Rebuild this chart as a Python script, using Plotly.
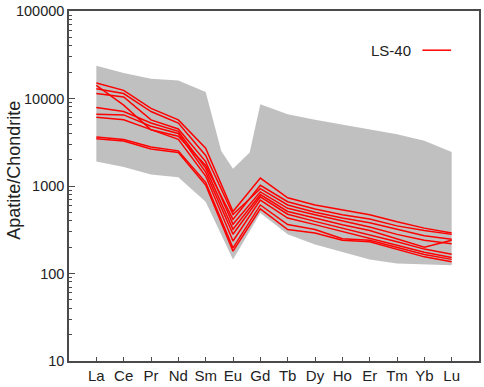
import plotly.graph_objects as go

elements = ["La", "Ce", "Pr", "Nd", "Sm", "Eu", "Gd", "Tb", "Dy", "Ho", "Er", "Tm", "Yb", "Lu"]

# Grey reference field (upper and lower envelopes); x as element index
band_upper_x = [0, 1, 2, 3, 4, 4.57, 5, 5.61, 6, 7, 8, 9, 10, 11, 12, 13]
band_upper_y = [23700, 19600, 16800, 16100, 11900, 2520, 1570, 2410, 8600, 6600, 5700, 5000, 4400, 3900, 3300, 2450]
band_lower_x = [0, 1, 2, 3, 4, 5, 6, 7, 8, 9, 10, 11, 12, 13]
band_lower_y = [1900, 1650, 1350, 1260, 660, 145, 490, 280, 215, 175, 145, 130, 126, 124]

# LS-40 apatite samples (chondrite-normalised)
s1 = [15000, 12400, 7700, 5700, 2700, 510, 1230, 733, 607, 530, 470, 390, 330, 290]
s2 = [14100, 8400, 4400, 3700, 1720, 415, 1020, 661, 547, 470, 420, 350, 310, 280]
s3 = [12900, 11400, 7100, 5240, 2230, 472, 933, 607, 500, 430, 380, 320, 270, 246]
s4 = [11400, 10400, 5700, 4480, 1900, 365, 857, 556, 469, 400, 340, 280, 240, 219]
s5 = [7900, 7090, 5240, 4220, 1600, 320, 798, 511, 430, 360, 310, 250, 200, 240]
s6 = [6600, 6490, 4810, 3980, 1440, 281, 752, 476, 394, 330, 280, 230, 190, 166]
s7 = [6120, 5700, 4410, 3410, 1300, 235, 690, 430, 362, 300, 250, 210, 175, 152]
s8 = [3620, 3400, 2790, 2520, 1100, 196, 607, 362, 318, 250, 240, 200, 165, 145]
s9 = [3460, 3260, 2650, 2410, 1026, 180, 547, 318, 291, 240, 230, 190, 155, 136]
samples = [s1, s2, s3, s4, s5, s6, s7, s8, s9]

y_tickvals = [10, 100, 1000, 10000, 100000]
y_ticktext = ["10", "100", "1000", "10000", "100000"]
y_minor_vals = [m * d for d in (10, 100, 1000, 10000) for m in range(2, 10)]

FONT = "Liberation Sans, Arial, sans-serif"
AX = "#4a4a4a"

fig = go.Figure()
idx = list(range(len(elements)))

fig.add_trace(go.Scatter(
    x=band_upper_x + band_lower_x[::-1],
    y=band_upper_y + band_lower_y[::-1],
    fill="toself", fillcolor="#c0c0c0", mode="lines",
    line=dict(width=0, color="#c0c0c0"), hoverinfo="skip", showlegend=False))

for s in samples:
    fig.add_trace(go.Scatter(x=idx, y=s, mode="lines",
                             line=dict(color="#ff0000", width=1.5), showlegend=False))

fig.update_layout(
    width=484, height=387,
    margin=dict(l=69, r=3, t=6, b=25),
    paper_bgcolor="white", plot_bgcolor="white",
    font=dict(family=FONT, size=15, color="#222222"),
    showlegend=False,
)
fig.update_xaxes(
    range=[-1, 14], tickvals=idx, ticktext=elements,
    showgrid=False, zeroline=False, showline=True, mirror=True,
    linecolor=AX, linewidth=1.5, ticks="inside", ticklen=4, tickcolor=AX,
    tickfont=dict(size=15))
fig.update_yaxes(
    type="log", range=[1, 5], tickvals=y_tickvals, ticktext=y_ticktext,
    ticklabeloverflow="allow",
    showgrid=False, zeroline=False, showline=True, mirror=True,
    linecolor=AX, linewidth=1.5, ticks="inside", ticklen=6, tickcolor=AX,
    minor=dict(tickmode="array", tickvals=y_minor_vals, ticks="inside",
               ticklen=3, tickcolor=AX, showgrid=False),
    tickfont=dict(size=14.5))

fig.add_annotation(text="Apatite/Chondrite", xref="paper", yref="paper",
                   x=-0.136, y=0.544, textangle=-90, showarrow=False,
                   xanchor="center", yanchor="middle", font=dict(size=18, color="#222222"))
fig.add_annotation(text="LS-40", xref="paper", yref="paper",
                   x=0.786, y=0.888, showarrow=False,
                   xanchor="center", yanchor="middle", font=dict(size=15, color="#222222"))
fig.add_shape(type="line", xref="paper", yref="paper",
              x0=0.862, x1=0.932, y0=0.888, y1=0.888,
              line=dict(color="#ff0000", width=1.5))

fig.write_html("out.html", config={"displayModeBar": False},
               post_script="document.body.style.margin='0';")
